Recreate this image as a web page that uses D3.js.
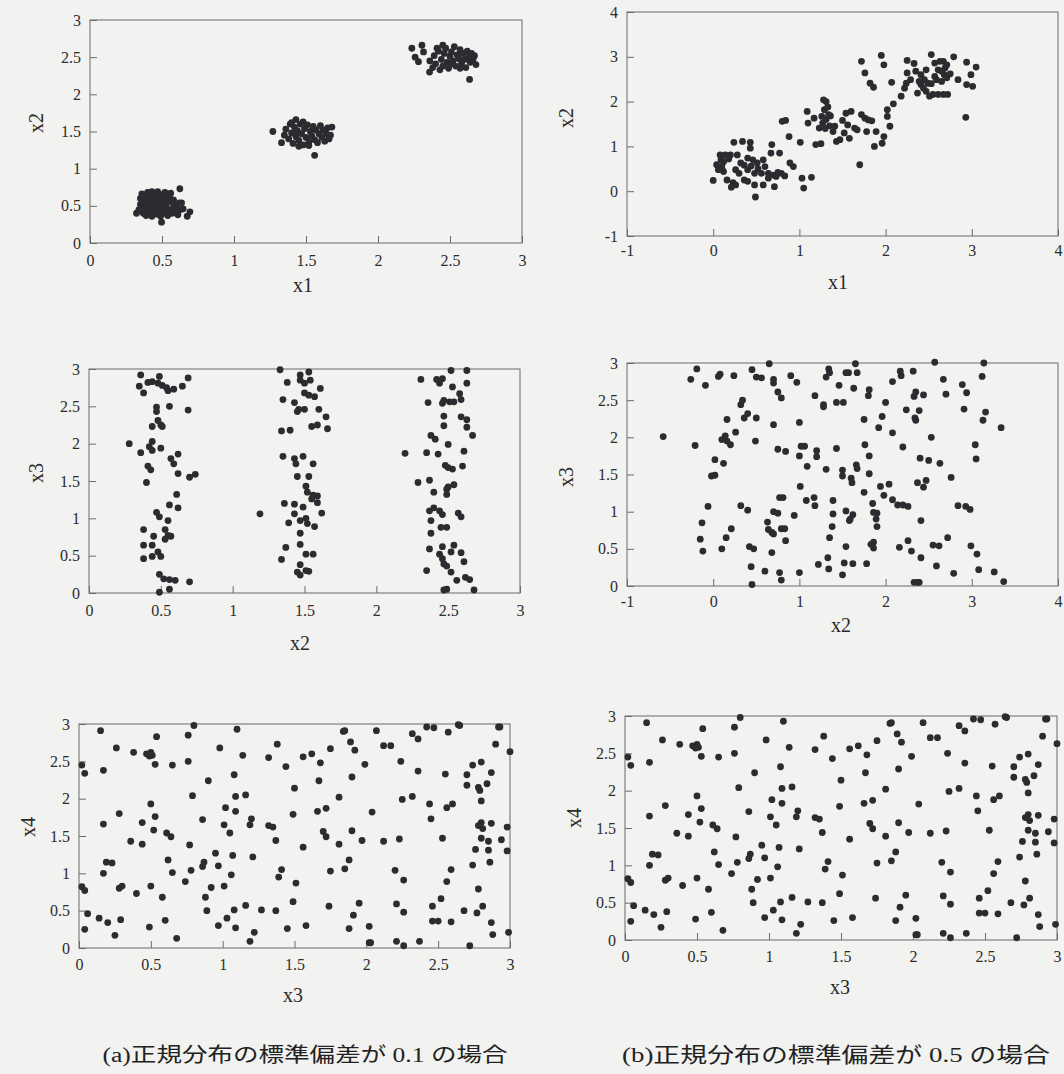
<!DOCTYPE html>
<html>
<head>
<meta charset="utf-8">
<script src="https://cdn.jsdelivr.net/npm/d3@7"></script>
<style>
  html, body { margin: 0; padding: 0; background: #f2f2f0; }
  svg { display: block; }
  .tick text { font-family: "Liberation Serif", "Times New Roman", serif; font-size: 16px; fill: #2c2c2c; }
  .tick line { stroke: #6a6a6a; stroke-width: 1; }
  .axis-label { font-family: "Liberation Serif", "Times New Roman", serif; font-size: 20px; fill: #2a2a2a; }
  .caption { font-family: "Liberation Serif", "Noto Sans CJK JP", serif; fill: #222; }
</style>
</head>
<body>
<script>
// ---- tick sets ----
const ticks03 = [0, 0.5, 1, 1.5, 2, 2.5, 3];
const ticksM14 = [-1, 0, 1, 2, 3, 4];

// ---- (a) sd = 0.1 : x1 vs x2 ----
const aX1X2 = [
  // cluster near (0.5, 0.5)
  [0.323,0.40],[0.497,0.28],[0.624,0.73],[0.56,0.67],[0.636,0.54],[0.694,0.42],[0.675,0.36],[0.647,0.46],
  [0.34,0.45],[0.35,0.52],[0.35,0.60],[0.36,0.66],[0.37,0.40],[0.37,0.49],[0.38,0.56],[0.38,0.63],
  [0.39,0.37],[0.39,0.44],[0.40,0.52],[0.40,0.59],[0.40,0.68],[0.41,0.41],[0.42,0.48],[0.42,0.55],
  [0.42,0.62],[0.43,0.36],[0.43,0.69],[0.44,0.44],[0.44,0.51],[0.44,0.58],[0.45,0.65],[0.46,0.39],
  [0.46,0.47],[0.46,0.55],[0.47,0.61],[0.47,0.69],[0.48,0.43],[0.48,0.50],[0.49,0.36],[0.49,0.57],
  [0.49,0.65],[0.50,0.46],[0.51,0.40],[0.51,0.53],[0.52,0.61],[0.52,0.68],[0.53,0.44],[0.53,0.49],
  [0.54,0.37],[0.55,0.56],[0.55,0.63],[0.56,0.45],[0.57,0.40],[0.58,0.52],[0.58,0.58],[0.59,0.43],
  [0.60,0.49],[0.61,0.38],[0.62,0.54],[0.63,0.45],
  // cluster near (1.5, 1.5)
  [1.27,1.50],[1.33,1.35],[1.56,1.18],[1.35,1.45],[1.36,1.53],[1.38,1.40],[1.39,1.60],[1.40,1.48],
  [1.41,1.34],[1.42,1.56],[1.43,1.66],[1.43,1.43],[1.44,1.51],[1.45,1.38],[1.46,1.60],[1.47,1.47],
  [1.48,1.32],[1.49,1.54],[1.50,1.42],[1.51,1.59],[1.52,1.36],[1.53,1.50],[1.54,1.44],[1.55,1.57],
  [1.56,1.39],[1.57,1.52],[1.58,1.35],[1.59,1.47],[1.60,1.58],[1.61,1.42],[1.62,1.52],[1.63,1.37],
  [1.64,1.47],[1.65,1.55],[1.66,1.40],[1.67,1.45],[1.68,1.56],[1.45,1.30],[1.52,1.31],[1.40,1.62],
  [1.48,1.63],
  // cluster near (2.5, 2.5)
  [2.235,2.62],[2.305,2.66],[2.316,2.57],[2.258,2.50],[2.281,2.44],[2.636,2.20],[2.358,2.30],
  [2.36,2.45],[2.38,2.36],[2.39,2.52],[2.40,2.41],[2.42,2.58],[2.43,2.33],[2.44,2.47],[2.45,2.38],
  [2.46,2.55],[2.47,2.62],[2.48,2.43],[2.49,2.35],[2.50,2.51],[2.51,2.57],[2.52,2.45],[2.53,2.64],
  [2.54,2.38],[2.55,2.53],[2.56,2.48],[2.57,2.60],[2.58,2.42],[2.59,2.55],[2.60,2.47],[2.61,2.36],
  [2.62,2.58],[2.63,2.50],[2.64,2.43],[2.65,2.55],[2.66,2.47],[2.67,2.52],[2.68,2.40],[2.41,2.62],
  [2.45,2.66],[2.50,2.40],[2.57,2.35]
];

// ---- (b) sd = 0.5 : x1 vs x2 ----
const bX1X2 = [
  [0,0.24],[0.08,0.81],[0.14,0.81],[0.2,0.81],[0.28,0.81],[0.24,1.09],[0.34,1.11],[0.43,1.09],[0.43,0.96],
  [0.04,0.59],[0.06,0.48],[0.12,0.44],[0.1,0.55],[0.16,0.25],[0.23,0.19],[0.21,0.09],[0.26,0.14],
  [0.36,0.25],[0.40,0.22],[0.48,0.14],[0.49,-0.13],[0.58,0.14],[0.64,0.29],[0.71,0.10],[0.73,0.33],
  [0.68,1.04],[0.67,0.85],[0.77,0.85],[0.32,0.63],[0.4,0.74],[0.46,0.70],[0.51,0.63],[0.58,0.70],[0.6,0.55],
  [0.26,0.48],[0.3,0.40],[0.4,0.48],[0.48,0.40],[0.56,0.40],[0.64,0.40],[0.79,0.40],[0.83,0.34],
  [0.89,0.63],[0.93,0.55],[0.80,1.56],[0.84,1.58],[0.88,1.22],[1.01,1.09],[1.03,0.29],[1.14,0.31],[1.05,0.07],
  [0.12,0.66],[0.18,0.72],[0.36,0.58],[0.44,0.56],[0.52,0.50],[0.70,0.36],[0.75,0.42],[0.09,0.70],
  [1.09,1.78],[1.10,1.52],[1.17,1.63],[1.19,1.04],[1.25,1.06],[1.23,1.41],[1.28,2.04],[1.31,2.00],
  [1.29,1.82],[1.26,1.67],[1.33,1.88],[1.34,1.71],[1.27,1.52],[1.35,1.46],[1.41,1.45],[1.39,1.33],
  [1.43,1.11],[1.47,1.15],[1.50,1.58],[1.54,1.74],[1.60,1.78],[1.56,1.48],[1.52,1.30],[1.58,1.18],
  [1.64,1.41],[1.70,0.59],[1.67,1.37],[1.72,2.90],[1.76,2.64],[1.95,3.03],[1.98,2.82],[1.82,2.41],
  [1.86,2.32],[1.72,1.71],[1.76,1.63],[1.80,1.59],[1.84,1.57],[1.78,1.33],[1.89,1.33],[1.87,1.00],
  [1.98,1.22],[1.96,1.07],[2.02,1.82],[2.02,1.67],[2.05,1.45],[2.07,2.43],[2.09,1.95],[2.18,2.12],
  [2.22,2.30],[2.24,2.41],[2.25,2.92],[2.25,2.64],[2.29,2.49],[2.33,2.85],[2.35,2.68],[2.37,2.19],
  [2.41,2.38],[2.45,2.49],[2.49,2.41],[2.47,2.23],[2.53,3.05],[2.51,2.12],[2.55,2.16],[2.61,2.16],
  [2.67,2.16],[2.72,2.16],[2.57,2.86],[2.63,2.90],[2.67,2.90],[2.71,2.82],[2.61,2.71],[2.65,2.68],
  [2.68,2.60],[2.71,2.53],[2.59,2.49],[2.65,2.45],[2.79,3.00],[2.84,2.49],[2.94,2.88],[2.99,2.60],
  [3.01,2.34],[2.94,2.38],[3.05,2.77],[2.93,1.65],[2.47,2.71],[2.41,2.60],[2.44,2.30],[2.53,2.40],
  [2.57,2.56],[2.75,2.62],[2.69,2.75],[2.39,2.45],[1.31,1.60],[1.36,1.68],[1.30,1.40]
];

// ---- (a) sd = 0.1 : x2 vs x3 ----
const aX2X3 = [
  [0.36,2.92],[0.49,2.90],[0.69,2.88],[0.35,2.77],[0.38,2.68],[0.41,2.82],[0.44,2.83],[0.48,2.81],
  [0.51,2.78],[0.54,2.75],[0.55,2.71],[0.59,2.73],[0.65,2.77],[0.69,2.45],[0.56,2.50],[0.47,2.49],
  [0.47,2.43],[0.48,2.31],[0.50,2.25],[0.44,2.23],[0.51,2.23],[0.28,2.00],[0.36,1.88],[0.44,2.03],
  [0.42,1.96],[0.44,1.91],[0.50,1.94],[0.57,1.80],[0.59,1.73],[0.62,1.86],[0.41,1.70],[0.43,1.65],
  [0.40,1.48],[0.62,1.60],[0.70,1.55],[0.74,1.59],[0.61,1.32],[0.56,1.18],[0.62,1.14],[0.47,1.08],
  [0.49,1.02],[0.55,0.97],[0.38,0.85],[0.45,0.76],[0.53,0.85],[0.55,0.77],[0.53,0.72],[0.57,0.76],
  [0.38,0.64],[0.44,0.64],[0.38,0.46],[0.44,0.49],[0.48,0.55],[0.50,0.49],[0.49,0.25],[0.52,0.19],
  [0.56,0.18],[0.60,0.17],[0.70,0.15],[0.56,0.05],[0.49,0.01],
  [1.33,2.99],[1.53,2.96],[1.47,2.92],[1.47,2.85],[1.54,2.85],[1.38,2.82],[1.50,2.81],[1.61,2.74],
  [1.50,2.68],[1.53,2.65],[1.57,2.63],[1.35,2.59],[1.43,2.55],[1.45,2.43],[1.46,2.46],[1.50,2.46],
  [1.60,2.46],[1.65,2.36],[1.34,2.17],[1.40,2.18],[1.55,2.23],[1.59,2.25],[1.66,2.20],[1.35,1.83],
  [1.43,1.80],[1.44,1.73],[1.49,1.83],[1.56,1.73],[1.45,1.56],[1.53,1.56],[1.51,1.43],[1.52,1.35],
  [1.56,1.31],[1.59,1.30],[1.55,1.26],[1.59,1.21],[1.36,1.20],[1.43,1.19],[1.49,1.15],[1.19,1.06],
  [1.43,1.06],[1.62,1.07],[1.39,0.94],[1.47,0.97],[1.51,1.00],[1.52,0.93],[1.57,0.89],[1.47,0.80],
  [1.47,0.65],[1.37,0.61],[1.34,0.45],[1.51,0.52],[1.56,0.52],[1.47,0.38],[1.45,0.28],[1.47,0.24],
  [1.51,0.30],[1.53,0.29],
  [2.31,2.86],[2.42,2.86],[2.46,2.87],[2.44,2.81],[2.52,2.98],[2.63,2.98],[2.63,2.81],[2.36,2.55],
  [2.46,2.54],[2.47,2.58],[2.51,2.56],[2.54,2.56],[2.53,2.76],[2.58,2.67],[2.59,2.59],[2.47,2.37],
  [2.47,2.24],[2.59,2.36],[2.63,2.32],[2.63,2.22],[2.67,2.11],[2.38,2.11],[2.41,2.06],[2.50,1.99],
  [2.20,1.87],[2.35,1.88],[2.43,1.86],[2.61,1.90],[2.48,1.71],[2.50,1.68],[2.53,1.66],[2.60,1.70],
  [2.29,1.48],[2.37,1.51],[2.54,1.45],[2.40,1.35],[2.49,1.39],[2.50,1.42],[2.49,1.32],[2.37,1.10],
  [2.40,1.14],[2.44,1.10],[2.46,1.05],[2.57,1.07],[2.59,1.02],[2.38,0.97],[2.38,0.80],[2.45,0.88],
  [2.49,0.88],[2.37,0.59],[2.46,0.62],[2.54,0.64],[2.44,0.52],[2.46,0.46],[2.47,0.39],[2.49,0.36],
  [2.52,0.55],[2.59,0.54],[2.61,0.42],[2.35,0.30],[2.52,0.28],[2.56,0.17],[2.62,0.21],[2.65,0.18],
  [2.47,0.04],[2.49,0.05],[2.68,0.04]
];

// ---- (b) sd = 0.5 : x2 vs x3 ----
const bX2X3 = [
  [-0.58,2.01],[-0.21,1.89],[-0.26,2.78],[-0.19,2.92],[-0.09,2.70],[-0.06,1.07],[-0.13,0.85],[-0.15,0.63],
  [-0.12,0.47],[0.06,2.82],[0.08,2.85],[0.24,2.83],[0.10,0.50],[0.15,0.65],[0.21,0.77],[0.02,1.70],
  [0.12,1.65],[-0.02,1.48],[0.02,1.49],[0.10,1.97],[0.14,2.02],[0.16,1.95],[0.20,1.90],[0.26,2.07],
  [0.16,2.24],[0.32,2.44],[0.34,2.50],[0.36,2.26],[0.40,2.32],[0.45,2.91],[0.50,2.81],[0.56,2.80],
  [0.50,2.26],[0.49,1.95],[0.65,2.99],[0.70,2.78],[0.70,2.73],[0.70,2.17],[0.75,2.61],[0.79,2.53],
  [0.90,2.83],[0.97,2.74],[1.00,2.20],[0.75,1.84],[0.84,1.81],[1.01,1.34],[1.09,1.61],[1.02,1.88],
  [1.06,1.88],[1.00,1.75],[1.18,2.56],[1.28,2.44],[1.28,2.41],[1.31,2.81],[1.34,2.92],[1.35,2.87],
  [1.43,2.47],[1.46,2.70],[1.51,2.47],[1.54,2.87],[1.57,2.87],[1.63,2.66],[1.65,2.99],[1.67,2.87],
  [1.20,1.82],[1.20,1.74],[1.31,1.57],[1.43,1.85],[1.50,1.56],[1.50,1.48],[1.60,1.45],[1.61,1.39],
  [1.66,1.63],[1.67,1.58],[1.76,1.90],[1.75,2.24],[1.81,2.64],[1.80,2.56],[1.81,1.75],[1.81,1.51],
  [1.75,1.26],[1.85,1.11],[1.90,0.98],[1.89,0.90],[1.90,0.80],[1.94,1.34],[1.98,1.22],[2.04,1.37],
  [2.08,1.16],[2.14,1.09],[2.20,1.09],[2.26,1.07],[1.96,2.28],[1.92,2.13],[2.00,2.47],[2.08,2.06],
  [2.08,2.75],[2.17,2.89],[2.18,2.83],[2.20,1.87],[2.24,2.37],[2.32,2.89],[2.33,2.55],[2.35,2.61],
  [2.34,2.26],[2.35,2.23],[2.39,2.36],[2.44,2.57],[2.53,2.00],[2.40,1.72],[2.50,1.69],[2.63,1.65],
  [2.37,1.39],[2.44,1.33],[2.47,1.42],[2.57,3.01],[2.67,2.78],[2.70,2.58],[2.89,2.71],[2.94,2.60],
  [2.91,2.38],[2.76,1.46],[2.84,1.08],[2.93,1.07],[2.98,1.03],[3.04,1.90],[3.05,1.71],[3.12,2.82],
  [3.14,3.00],[3.13,2.23],[3.16,2.34],[3.34,2.13],[1.86,0.51],[1.86,0.59],[1.83,0.56],[2.16,0.52],
  [2.26,0.61],[2.30,0.47],[2.41,0.88],[2.41,0.38],[2.55,0.55],[2.62,0.54],[2.72,0.65],[2.99,0.54],
  [3.06,0.43],[2.59,0.27],[2.79,0.17],[3.08,0.22],[3.26,0.19],[3.37,0.06],[2.33,0.05],[2.37,0.05],
  [2.39,0.05],[1.78,0.30],[1.62,0.30],[1.52,0.31],[1.50,0.15],[1.33,0.38],[1.34,0.23],[1.35,0.65],
  [1.38,0.80],[1.39,0.97],[1.22,0.29],[1.00,0.18],[0.79,0.08],[0.77,0.18],[0.60,0.20],[0.45,0.02],
  [0.44,0.26],[0.42,0.53],[0.47,0.50],[0.32,1.08],[0.40,1.02],[0.64,0.76],[0.68,0.72],[0.70,0.70],
  [0.68,0.45],[0.63,0.86],[0.70,1.00],[0.75,0.98],[0.77,1.19],[0.81,1.19],[0.79,0.77],[0.83,0.77],
  [0.84,0.61],[0.94,0.95],[1.08,1.15],[1.17,1.19],[1.18,1.08],[1.39,1.15],[1.54,1.01],[1.58,0.88],
  [1.59,0.90],[1.54,0.53],[1.62,0.96],[1.86,0.99]
];

// ---- x3 vs x4 (same in (a) and (b)) ----
const x3X4 = [
  [0.02,2.45],[0.04,2.34],[0.02,0.82],[0.04,0.77],[0.06,0.46],[0.04,0.25],[0.15,2.91],[0.17,2.38],
  [0.17,1.66],[0.17,1.00],[0.19,1.15],[0.23,1.14],[0.14,0.40],[0.20,0.34],[0.25,0.17],[0.29,0.38],
  [0.26,2.68],[0.28,1.80],[0.28,0.80],[0.30,0.83],[0.38,2.62],[0.36,1.43],[0.40,0.73],[0.44,1.68],
  [0.44,1.39],[0.49,0.28],[0.50,0.83],[0.50,1.93],[0.52,1.58],[0.53,1.76],[0.47,2.60],[0.49,2.57],
  [0.50,2.62],[0.51,2.58],[0.53,2.46],[0.54,2.83],[0.58,0.68],[0.60,0.37],[0.61,1.54],[0.64,1.49],
  [0.62,1.18],[0.65,1.01],[0.65,2.45],[0.68,0.13],[0.74,0.89],[0.76,2.50],[0.76,2.85],[0.80,2.98],
  [0.77,1.38],[0.78,1.04],[0.79,2.04],[0.86,1.72],[0.86,1.09],[0.87,1.15],[0.88,0.68],[0.89,0.50],
  [0.90,2.24],[0.95,1.27],[0.92,0.81],[0.97,0.30],[0.97,1.10],[0.98,2.68],[1.01,0.83],[1.02,1.88],
  [1.01,1.65],[1.03,0.40],[1.05,1.54],[1.06,0.98],[1.07,1.24],[1.08,2.32],[1.09,2.03],[1.09,1.83],
  [1.09,0.27],[1.08,0.51],[1.10,2.93],[1.14,2.58],[1.16,0.57],[1.16,2.05],[1.19,0.09],[1.20,1.73],
  [1.19,1.65],[1.21,1.22],[1.22,0.21],[1.27,0.51],[1.32,2.55],[1.32,1.64],[1.35,1.62],[1.37,0.50],
  [1.37,1.44],[1.38,2.73],[1.39,0.95],[1.41,1.05],[1.44,2.43],[1.45,0.26],[1.49,1.79],[1.49,0.62],
  [1.50,2.14],[1.51,0.87],[1.56,1.35],[1.56,2.56],[1.58,0.30],[1.62,2.60],[1.66,1.83],[1.67,2.24],
  [1.68,2.48],[1.70,1.56],[1.72,1.49],[1.72,1.87],[1.74,0.56],[1.75,2.67],[1.75,1.03],[1.81,1.39],
  [1.81,2.02],[1.84,2.90],[1.85,2.91],[1.85,1.06],[1.88,0.26],[1.88,1.18],[1.90,1.57],[1.90,2.29],
  [1.89,2.76],[1.92,2.65],[1.91,0.44],[1.95,0.60],[1.97,1.44],[1.99,2.46],[2.02,0.29],[2.02,0.07],
  [2.03,0.07],[2.04,1.82],[2.07,2.91],[2.12,1.43],[2.12,2.71],[2.17,2.71],[2.20,1.04],[2.21,0.59],
  [2.21,0.09],[2.23,1.46],[2.24,2.50],[2.25,1.99],[2.26,0.91],[2.26,0.48],[2.26,0.03],[2.32,2.03],
  [2.32,2.87],[2.36,2.80],[2.36,2.37],[2.37,0.09],[2.42,2.96],[2.44,1.93],[2.45,1.73],[2.46,0.56],
  [2.46,0.36],[2.47,2.95],[2.50,0.36],[2.52,0.66],[2.53,1.47],[2.55,2.33],[2.56,0.89],[2.56,1.88],
  [2.57,2.89],[2.59,1.05],[2.59,0.35],[2.60,1.93],[2.64,2.99],[2.65,2.98],[2.68,0.50],[2.70,2.32],
  [2.70,2.18],[2.72,0.03],[2.74,2.45],[2.74,1.11],[2.76,1.32],[2.77,0.47],[2.78,2.15],[2.79,2.11],
  [2.80,2.49],[2.80,1.97],[2.78,0.79],[2.78,1.64],[2.80,1.68],[2.81,1.60],[2.80,1.47],[2.81,0.56],
  [2.84,2.20],[2.85,1.43],[2.85,1.31],[2.86,1.15],[2.87,1.67],[2.87,2.35],[2.87,0.34],[2.88,0.18],
  [2.90,2.73],[2.92,2.96],[2.93,2.96],[2.94,1.45],[2.98,1.62],[2.98,1.30],[2.99,0.21],[3.00,2.63]
];

// ---- layout of the six plot frames ----
const panels = [
  { data: aX1X2, xDom: [0, 3], yDom: [0, 3], xt: ticks03, yt: ticks03,
    box: { l: 90, r: 522, t: 20, b: 243 }, xl: "x1", yl: "x2",
    xlPos: [303, 285], ylPos: [36, 123], xPad: 12 },
  { data: bX1X2, xDom: [-1, 4], yDom: [-1, 4], xt: ticksM14, yt: ticksM14,
    box: { l: 627, r: 1058, t: 12, b: 236 }, xl: "x1", yl: "x2",
    xlPos: [838, 282], ylPos: [566, 118], xPad: 9 },
  { data: aX2X3, xDom: [0, 3], yDom: [0, 3], xt: ticks03, yt: ticks03,
    box: { l: 89, r: 520, t: 369, b: 593 }, xl: "x2", yl: "x3",
    xlPos: [300, 643], ylPos: [36, 473], xPad: 12 },
  { data: bX2X3, xDom: [-1, 4], yDom: [0, 3], xt: ticksM14, yt: ticks03,
    box: { l: 627, r: 1058, t: 363, b: 586 }, xl: "x2", yl: "x3",
    xlPos: [841, 625], ylPos: [566, 477], xPad: 10 },
  { data: x3X4, xDom: [0, 3], yDom: [0, 3], xt: ticks03, yt: ticks03,
    box: { l: 79, r: 510, t: 724, b: 948 }, xl: "x3", yl: "x4",
    xlPos: [293, 995], ylPos: [28, 827], xPad: 11 },
  { data: x3X4, xDom: [0, 3], yDom: [0, 3], xt: ticks03, yt: ticks03,
    box: { l: 625, r: 1057, t: 716, b: 940 }, xl: "x3", yl: "x4",
    xlPos: [840, 987], ylPos: [574, 818], xPad: 11 }
];

const captions = [
  { text: "(a)正規分布の標準偏差が 0.1 の場合", x: 305, y: 1055, size: 20, len: 405 },
  { text: "(b)正規分布の標準偏差が 0.5 の場合", x: 836, y: 1055, size: 21, len: 428 }
];

const W = 1064, H = 1074;
const svg = d3.select("body").append("svg").attr("width", W).attr("height", H);
svg.append("rect").attr("width", W).attr("height", H).attr("fill", "#f2f2f0");

const fmt = d => String(d);

panels.forEach(p => {
  const x = d3.scaleLinear().domain(p.xDom).range([p.box.l, p.box.r]);
  const y = d3.scaleLinear().domain(p.yDom).range([p.box.b, p.box.t]);
  const g = svg.append("g");

  // frame
  g.append("rect")
    .attr("x", p.box.l).attr("y", p.box.t)
    .attr("width", p.box.r - p.box.l).attr("height", p.box.b - p.box.t)
    .attr("fill", "none").attr("stroke", "#6a6a6a").attr("stroke-width", 1);

  // bottom axis with inward ticks
  const gx = g.append("g").attr("transform", `translate(0,${p.box.b})`)
    .call(d3.axisBottom(x).tickValues(p.xt).tickFormat(fmt).tickSizeInner(-7).tickSizeOuter(0).tickPadding(p.xPad));
  gx.select(".domain").remove();

  // left axis with inward ticks
  const gy = g.append("g").attr("transform", `translate(${p.box.l},0)`)
    .call(d3.axisLeft(y).tickValues(p.yt).tickFormat(fmt).tickSizeInner(-7).tickSizeOuter(0).tickPadding(9));
  gy.select(".domain").remove();

  // points
  g.append("g").selectAll("circle").data(p.data).join("circle")
    .attr("cx", d => x(d[0])).attr("cy", d => y(d[1]))
    .attr("r", 3.4).attr("fill", "#2b2b30");

  // axis titles
  g.append("text").attr("class", "axis-label")
    .attr("x", p.xlPos[0]).attr("y", p.xlPos[1])
    .attr("text-anchor", "middle").attr("dominant-baseline", "central")
    .text(p.xl);
  g.append("text").attr("class", "axis-label")
    .attr("transform", `translate(${p.ylPos[0]},${p.ylPos[1]}) rotate(-90)`)
    .attr("text-anchor", "middle").attr("dominant-baseline", "central")
    .text(p.yl);
});

captions.forEach(c => {
  svg.append("text").attr("class", "caption")
    .attr("x", c.x).attr("y", c.y)
    .attr("text-anchor", "middle").attr("dominant-baseline", "central")
    .attr("font-size", c.size)
    .attr("textLength", c.len).attr("lengthAdjust", "spacingAndGlyphs")
    .text(c.text);
});
</script>
</body>
</html>
